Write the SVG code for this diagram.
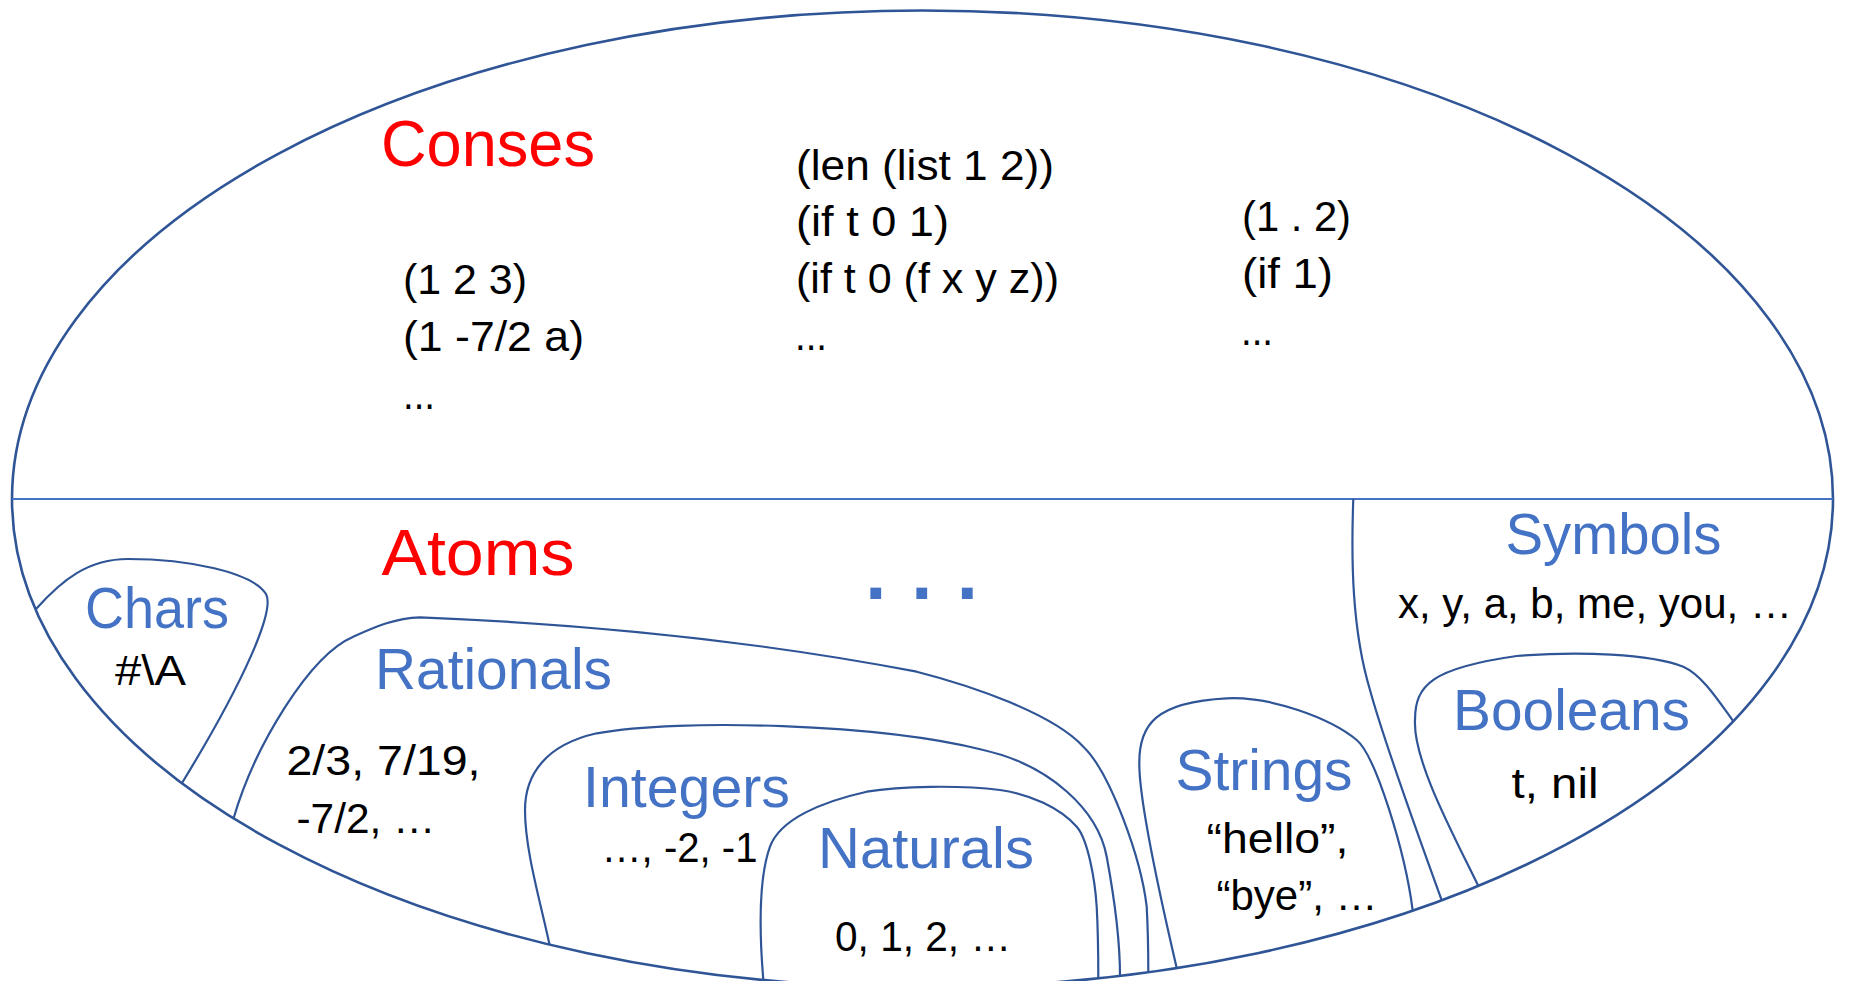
<svg xmlns="http://www.w3.org/2000/svg" width="1849" height="981" viewBox="0 0 1849 981">
<style>
.bd{fill:none;stroke:#2F5597;stroke-width:2.2}
.t{font-family:"Liberation Sans",Arial,sans-serif}
.big{font-size:64px;fill:#FF0000}
.lab{font-size:57px;fill:#4472C4}
.ex{font-size:43px;fill:#000000}
</style>
<rect width="1849" height="981" fill="#ffffff"/>
<g id="universe">
<ellipse cx="922.5" cy="499" rx="910.5" ry="488.5" fill="none" stroke="#2F5597" stroke-width="2.6"/>
<line x1="12" y1="499" x2="1833" y2="499" stroke="#4472C4" stroke-width="2.2"/>
</g>
<g id="conses">
<text class="t big" x="381" y="166" textLength="214" lengthAdjust="spacingAndGlyphs">Conses</text>
<text class="t ex" x="403" y="294" textLength="124" lengthAdjust="spacingAndGlyphs">(1 2 3)</text>
<text class="t ex" x="403" y="351" textLength="181" lengthAdjust="spacingAndGlyphs">(1 -7/2 a)</text>
<text class="t ex" x="403" y="409" textLength="32" lengthAdjust="spacingAndGlyphs">...</text>
<text class="t ex" x="796" y="180" textLength="258" lengthAdjust="spacingAndGlyphs">(len (list 1 2))</text>
<text class="t ex" x="796" y="236" textLength="153" lengthAdjust="spacingAndGlyphs">(if t 0 1)</text>
<text class="t ex" x="796" y="293" textLength="263" lengthAdjust="spacingAndGlyphs">(if t 0 (f x y z))</text>
<text class="t ex" x="795" y="350" textLength="32" lengthAdjust="spacingAndGlyphs">...</text>
<text class="t ex" x="1242" y="231" textLength="109" lengthAdjust="spacingAndGlyphs">(1 . 2)</text>
<text class="t ex" x="1242" y="288" textLength="91" lengthAdjust="spacingAndGlyphs">(if 1)</text>
<text class="t ex" x="1241" y="345" textLength="32" lengthAdjust="spacingAndGlyphs">...</text>
</g>
<g id="atoms">
<text class="t big" x="381.5" y="575" textLength="193" lengthAdjust="spacingAndGlyphs">Atoms</text>
</g>
<g id="more-atoms">
<text class="t" x="875.7 898.5 921.7 944.5 967.3" y="599" text-anchor="middle" font-size="76" font-weight="bold" fill="#4472C4">. . .</text>
</g>
<g id="chars">
<path class="bd" d="M 36,609 C 62,580 88,559 128,559 C 188,559 252,572 266,594 C 275,610 245,680 182,783"/>
<text class="t lab" x="85" y="628" textLength="144" lengthAdjust="spacingAndGlyphs">Chars</text>
<text class="t ex" x="115" y="685" textLength="71" lengthAdjust="spacingAndGlyphs">#\A</text>
</g>
<g id="rationals">
<path class="bd" d="M 233.5,818.5 C 255,745 310,655 353.3,636.7 C 375,627 395,618 420,617.3 C 585,624 751.7,640 916.7,671.7 C 971.7,685.7 1053.3,713.7 1083.3,746.7 C 1110,772 1141,858 1146.7,906.7 C 1148,930 1148.3,950 1148.3,972.3"/>
<text class="t lab" x="375" y="689" textLength="237" lengthAdjust="spacingAndGlyphs">Rationals</text>
<text class="t ex" x="286.5" y="775" textLength="194" lengthAdjust="spacingAndGlyphs">2/3, 7/19,</text>
<text class="t ex" x="296.5" y="833" textLength="139" lengthAdjust="spacingAndGlyphs">-7/2, …</text>
</g>
<g id="integers">
<path class="bd" d="M 549.5,944.6 C 540,900 525,850 525,810 C 525,775 545,745 596.7,733.3 C 680,718 880,724 983.3,750 C 1050,765 1098,810 1106.7,856.7 C 1111.7,883.7 1120,935 1120,975.9"/>
<text class="t lab" x="583" y="806.5" textLength="207" lengthAdjust="spacingAndGlyphs">Integers</text>
<text class="t ex" x="601.5" y="861.5" textLength="156" lengthAdjust="spacingAndGlyphs">…, -2, -1</text>
</g>
<g id="naturals">
<path class="bd" d="M 763.3,980 C 760,940 758,880 770,846.7 C 780,819.2 821.7,801.7 866.7,791.7 C 900,786 960,785 1000,790 C 1030,794 1060,808 1076.7,826.7 C 1088,839.5 1095,880 1096.7,906.7 C 1098,930 1098.3,955 1098.3,978.3"/>
<text class="t lab" x="818" y="868" textLength="216" lengthAdjust="spacingAndGlyphs">Naturals</text>
<text class="t ex" x="835" y="950.5" textLength="176" lengthAdjust="spacingAndGlyphs">0, 1, 2, …</text>
</g>
<g id="strings">
<path class="bd" d="M 1176.7,968 C 1162,905 1139,800 1139.3,763.3 C 1139,725 1155,702 1226.7,698.3 C 1270,696 1330,718 1356.7,740 C 1375,755 1405,850 1412.7,910.7"/>
<text class="t lab" x="1175.5" y="790" textLength="177" lengthAdjust="spacingAndGlyphs">Strings</text>
<text class="t ex" x="1206.5" y="852.5" textLength="142" lengthAdjust="spacingAndGlyphs">“hello”,</text>
<text class="t ex" x="1216.5" y="910" textLength="161" lengthAdjust="spacingAndGlyphs">“bye”, …</text>
</g>
<g id="symbols">
<path class="bd" d="M 1353.3,499 C 1351,560 1352,630 1370,690 C 1385,745 1420,840 1441.7,900.3"/>
<text class="t lab" x="1505.5" y="554" textLength="216" lengthAdjust="spacingAndGlyphs">Symbols</text>
<text class="t ex" x="1398" y="618" textLength="394" lengthAdjust="spacingAndGlyphs">x, y, a, b, me, you, …</text>
</g>
<g id="booleans">
<path class="bd" d="M 1478.3,885.9 C 1452,832 1413,760 1415,720 C 1415,685 1432,668 1516.7,656 C 1580,651 1650,654 1683.3,666.7 C 1702,675 1718,700 1733.3,721.3"/>
<text class="t lab" x="1453" y="730" textLength="237" lengthAdjust="spacingAndGlyphs">Booleans</text>
<text class="t ex" x="1511.5" y="798" textLength="87" lengthAdjust="spacingAndGlyphs">t, nil</text>
</g>
</svg>
